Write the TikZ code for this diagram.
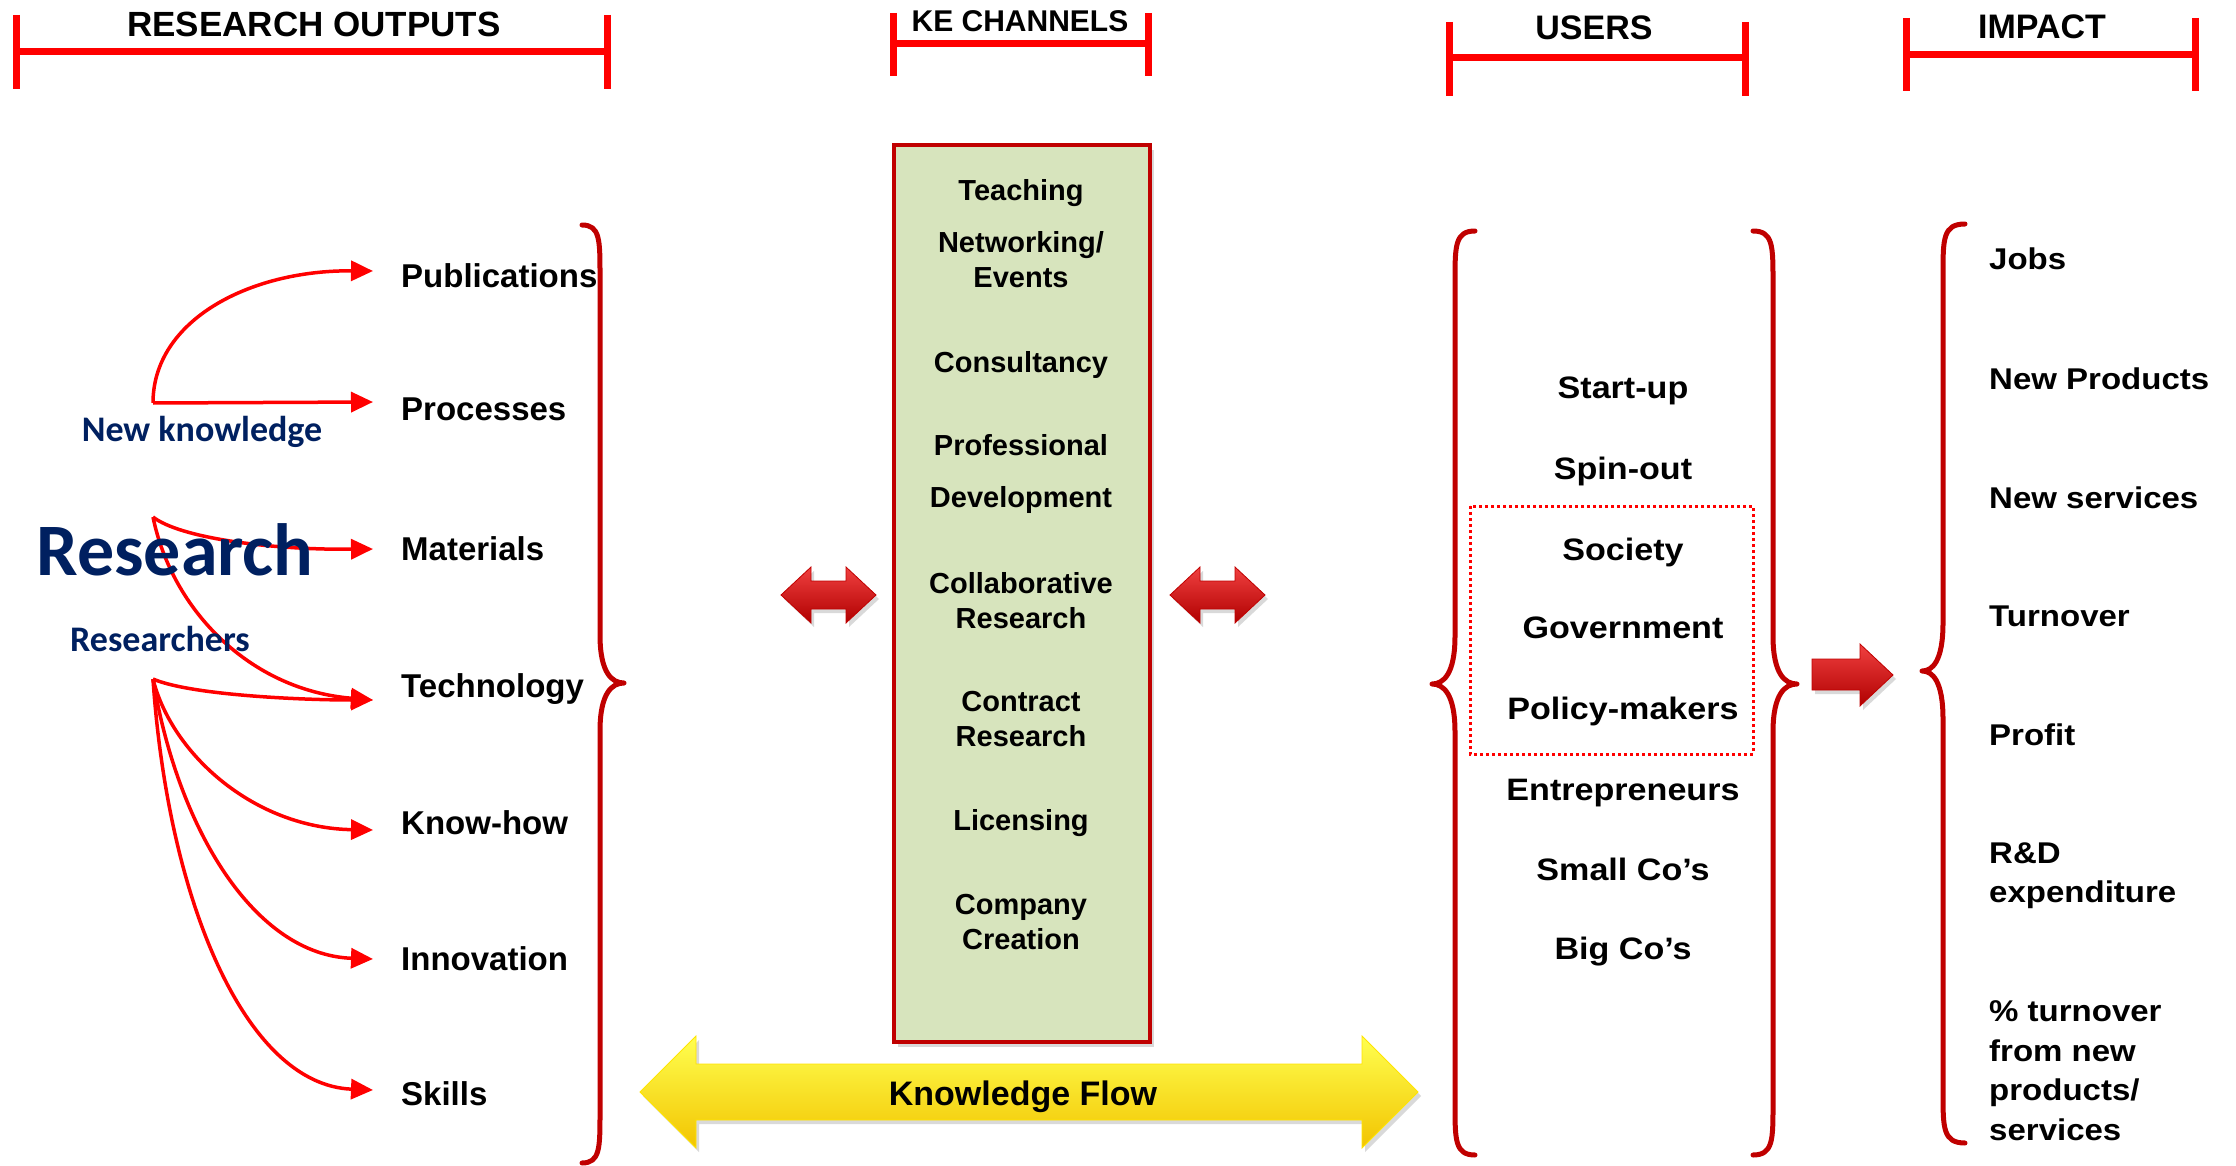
\documentclass[tikz,border=0pt]{standalone}
\usepackage{fontspec}
\setmainfont{Liberation Sans}
\newfontfamily\calibri{Carlito}
\newfontfamily\widesans{Liberation Sans}[FakeStretch=1.1]
\usetikzlibrary{calc,arrows.meta,shadows}

\definecolor{barred}{HTML}{FF0000}
\definecolor{bracered}{HTML}{C00000}
\definecolor{navy}{HTML}{002060}
\definecolor{boxgreen}{HTML}{D7E4BD}
\definecolor{redtop}{HTML}{F04040}
\definecolor{redbot}{HTML}{B00000}
\definecolor{yeltop}{HTML}{FFFF50}
\definecolor{yelmid}{HTML}{FFE400}
\definecolor{yelbot}{HTML}{F2C400}

\tikzset{
  hbar/.style={barred, line width=7pt},
  curly/.style={bracered, line width=5pt, line cap=round, line join=round},
  outflow/.style={barred, line width=3.5pt, -{Triangle[length=22pt,width=20pt]}},
  outitem/.style={anchor=west, inner xsep=28pt, inner ysep=0pt, text height=23.5pt, text depth=0pt,
    font=\bfseries\fontsize{33}{38}\selectfont},
  channel/.style={align=center, inner sep=0pt, text depth=0pt,
    font=\bfseries\fontsize{29}{35}\selectfont},
  user/.style={inner sep=0pt, text height=22pt, text depth=0pt,
    font=\widesans\bfseries\fontsize{31}{39}\selectfont},
  impact/.style={anchor=west, align=left, inner sep=0pt, text depth=0pt,
    font=\widesans\bfseries\fontsize{30}{39.5}\selectfont},
  resnote/.style={navy, anchor=base, inner sep=0pt},
  blockred/.style={top color=redtop, bottom color=redbot, draw=bracered, line width=0.8pt,
    drop shadow={shadow xshift=3pt, shadow yshift=-4pt, opacity=0.3}},
}

\begin{document}
\begin{tikzpicture}[x=1pt,y=-1pt]
  \useasboundingbox (0,0) rectangle (2236,1166);

  %% Column headers with their red bars
  \foreach \nm/\xl/\xr/\yt/\yb/\ym/\tx/\ty/\fs/\txt in {
      ro/16/607/15/89/52/314/37/35/RESEARCH OUTPUTS,
      ke/893/1148/13/76/44/1020/32/30/KE CHANNELS,
      us/1449/1745/22/96/58/1594/40/34/USERS,
      im/1906/2195/18/91/55/2042/39/34/IMPACT}
  {
    \draw[hbar] (\xl,\yt) -- (\xl,\yb);
    \draw[hbar] (\xr,\yt) -- (\xr,\yb);
    \draw[hbar] (\xl,\ym) -- (\xr,\ym);
    \node[anchor=base, inner sep=0pt, font=\bfseries\fontsize{\fs}{\fs}\selectfont] (head\nm) at (\tx,\ty) {\txt};
  }

  %% Curly braces
  \foreach \xe/\xv/\xt/\yt/\ym/\yb in {582/600/624/225/683/1163, 1475/1455/1432/231/684/1155,
      1753/1773/1797/231/684/1155, 1965/1943/1922/224/671/1143}
  {
    \draw[curly] (\xe,\yt) .. controls (\xv,\yt) and (\xv,\yt+15) .. (\xv,\yt+50)
      -- (\xv,\ym-48) .. controls (\xv,\ym-10) and (\xv/2+\xt/2,\ym) .. (\xt,\ym)
      .. controls (\xv/2+\xt/2,\ym) and (\xv,\ym+10) .. (\xv,\ym+48)
      -- (\xv,\yb-50) .. controls (\xv,\yb-15) and (\xv,\yb) .. (\xe,\yb);
  }

  %% Research outputs
  \foreach \y/\nm/\txt in {276/pub/Publications, 409/proc/Processes, 549/mat/Materials,
      686/tech/Technology, 823/know/Know-how, 959/innov/Innovation, 1094/skill/Skills}
  {
    \node[outitem] (\nm) at (373,\y) {\txt};
  }

  \coordinate (nk) at (153,403);
  \coordinate (rs) at (153,517);
  \coordinate (rr) at (153,679);

  \draw[outflow] (nk) .. controls (153,320) and (250,270) .. ([yshift=5pt]pub.west);
  \draw[outflow] (nk) -- ([yshift=7pt]proc.west);
  \draw[outflow] (rs) .. controls (180,538) and (270,550) .. (mat.west);
  \draw[outflow] (rs) .. controls (172,610) and (250,690) .. ([yshift=-14pt]tech.west);
  \draw[outflow] (rr) .. controls (190,695) and (300,700) .. ([yshift=-14pt]tech.west);
  \draw[outflow] (rr) .. controls (172,755) and (255,828) .. ([yshift=-7pt]know.west);
  \draw[outflow] (rr) .. controls (178,830) and (255,955) .. (innov.west);
  \draw[outflow] (rr) .. controls (168,900) and (245,1085) .. ([yshift=4pt]skill.west);

  \node[resnote, font=\calibri\bfseries\fontsize{36}{40}\selectfont] (newk) at (202,441) {New knowledge};
  \node[resnote, font=\calibri\bfseries\fontsize{74}{80}\selectfont] (resrch) at (175,575) {Research};
  \node[resnote, font=\calibri\bfseries\fontsize{36}{40}\selectfont] (rschers) at (160,651) {Researchers};

  %% KE channels box
  \filldraw[fill=boxgreen, draw=bracered, line width=4pt,
    drop shadow={shadow xshift=4pt, shadow yshift=-5pt, opacity=0.3}] (894,145) rectangle (1150,1042);
  \foreach \y/\th/\txt [count=\i] in {190/21/Teaching, 260/56/{Networking/\\Events}, 362/21/Consultancy,
      471/73/{Professional\\[17pt]Development}, 600/56/{Collaborative\\Research},
      718/56/{Contract\\Research}, 820/21/Licensing, 921/56/{Company\\Creation}}
  {
    \node[channel, text height=\th pt] (chan\i) at (1021,\y) {\txt};
  }

  %% Double block arrows either side of the box
  \foreach \xa in {781,1170}
  {
    \path[blockred] (\xa,595) -- (\xa+30,567) -- (\xa+30,581) -- (\xa+65,581) -- (\xa+65,567)
      -- (\xa+95,595) -- (\xa+65,623) -- (\xa+65,609) -- (\xa+30,609) -- (\xa+30,623) -- cycle;
  }

  %% Knowledge flow arrow
  \path[top color=yeltop, middle color=yelmid, bottom color=yelbot, draw=yelmid, line width=0.8pt,
    drop shadow={shadow xshift=3pt, shadow yshift=-4pt, opacity=0.3}]
    (640,1092) -- (696,1036) -- (696,1064) -- (1362,1064) -- (1362,1036) -- (1418,1092)
    -- (1362,1148) -- (1362,1120) -- (696,1120) -- (696,1148) -- cycle;
  \node[inner sep=0pt, text height=24pt, text depth=0pt, font=\bfseries\fontsize{34}{38}\selectfont]
    (kflow) at (1023,1093) {Knowledge Flow};

  %% Users
  \draw[barred, line width=3pt, dash pattern=on 3pt off 3pt] (1470,506) rectangle (1753,754);
  \foreach \y/\txt [count=\i] in {387/Start-up, 468/Spin-out, 549/Society, 627/Government,
      708/Policy-makers, 789/Entrepreneurs, 869/Small Co’s, 948/Big Co’s}
  {
    \node[user] (user\i) at (1623,\y) {\txt};
  }

  %% Arrow from users to impact
  \path[blockred] (1812,659) -- (1860,659) -- (1860,644) -- (1893,675) -- (1860,706)
    -- (1860,690) -- (1812,690) -- cycle;

  %% Impact
  \foreach \y/\th/\txt [count=\i] in {259/21.5/Jobs, 379/21.5/New Products, 498/21.5/New services,
      616/21.5/Turnover, 735/21.5/Profit, 872/61/{R\&D\\expenditure},
      1070/140/{\% turnover\\from new\\products/\\services}}
  {
    \node[impact, text height=\th pt] (imp\i) at (1989,\y) {\txt};
  }
\end{tikzpicture}
\end{document}
